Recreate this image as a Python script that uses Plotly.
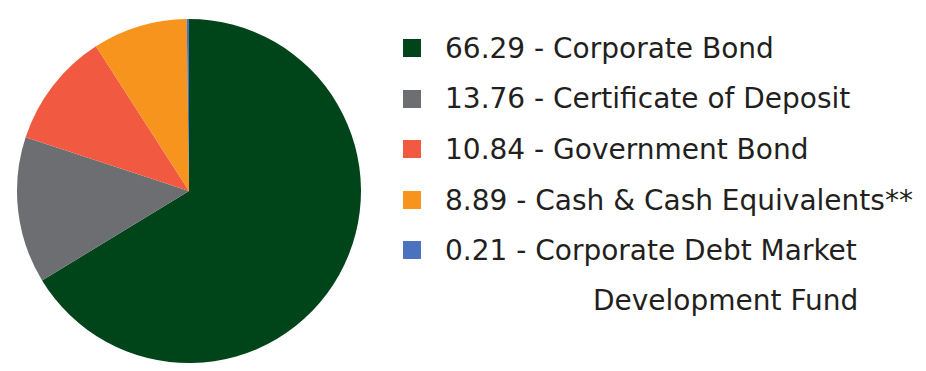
import plotly.graph_objects as go

categories = ["Corporate Bond", "Certificate of Deposit", "Government Bond",
              "Cash & Cash Equivalents**", "Corporate Debt Market Development Fund"]
values = [66.29, 13.76, 10.84, 8.89, 0.21]
colors = ["#00441a", "#6d6e71", "#f15a40", "#f7941d", "#4a72bf"]
# how each category label wraps in the legend
label_lines = [["Corporate Bond"], ["Certificate of Deposit"], ["Government Bond"],
               ["Cash & Cash Equivalents**"], ["Corporate Debt Market", "Development Fund"]]

W, H = 926, 371
OFF = 8  # page body margin offset
fig = go.Figure(go.Pie(
    labels=categories, values=values, sort=False, direction="clockwise", rotation=0,
    marker=dict(colors=colors, line=dict(width=0)),
    textinfo="none", hoverinfo="label+value", showlegend=False,
    domain=dict(x=[(17 - OFF) / W, (361 - OFF) / W],
                y=[(H - 363 + OFF) / H, (H - 19 + OFF) / H]),
))

font = dict(family="DejaVu Sans", size=28, color="#231f20")
row_y = [48, 99, 149, 200, 250, 300]
row = 0
for val, lines, col in zip(values, label_lines, colors):
    yc = row_y[row] - OFF
    fig.add_shape(type="rect", xref="paper", yref="paper",
                  x0=(403 - OFF) / W, x1=(421 - OFF) / W,
                  y0=1 - (yc + 9) / H, y1=1 - (yc - 9) / H,
                  fillcolor=col, line=dict(width=0))
    fig.add_annotation(xref="paper", yref="paper", x=(443 - OFF) / W, y=1 - yc / H,
                       xanchor="left", yanchor="middle", showarrow=False,
                       text=f"{val:.2f} - {lines[0]}", font=font)
    row += 1
    for extra in lines[1:]:
        yc = row_y[row] - OFF
        fig.add_annotation(xref="paper", yref="paper", x=(591 - OFF) / W, y=1 - yc / H,
                           xanchor="left", yanchor="middle", showarrow=False,
                           text=extra, font=font)
        row += 1

fig.update_layout(width=W, height=H, margin=dict(l=0, r=0, t=0, b=0),
                  paper_bgcolor="white", plot_bgcolor="white")
fig.write_html("out.html")
